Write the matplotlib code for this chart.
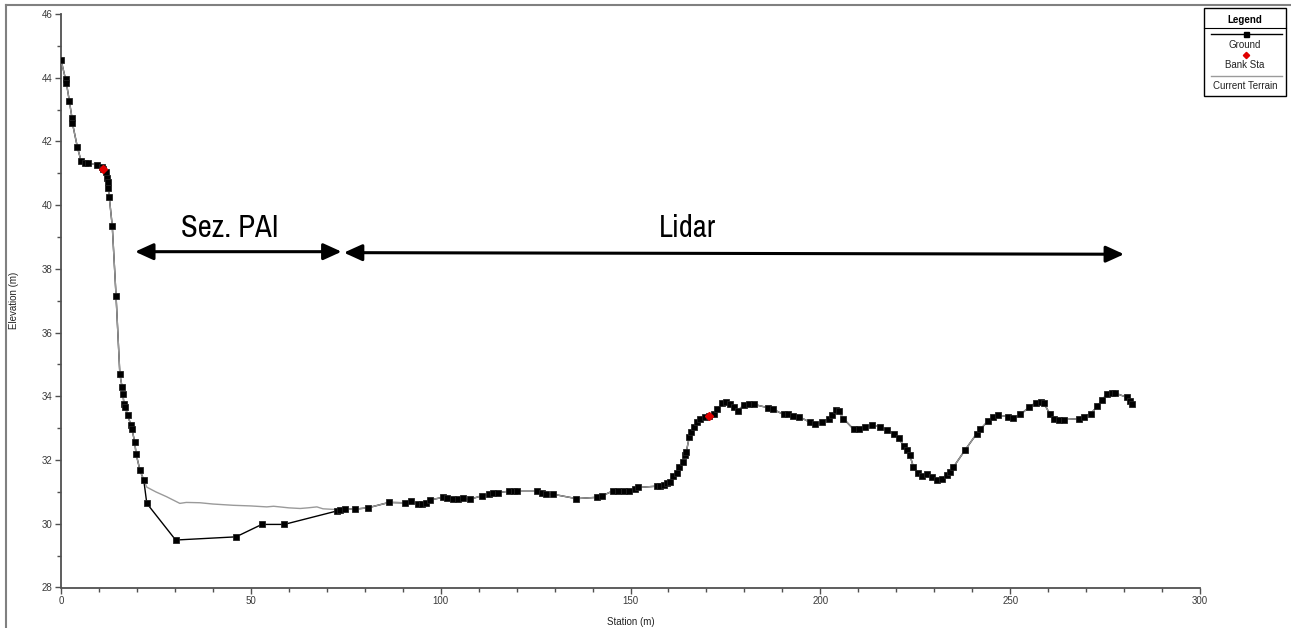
import matplotlib
matplotlib.use("Agg")
import matplotlib.pyplot as plt
from matplotlib.lines import Line2D
from matplotlib.patches import Rectangle
from matplotlib.ticker import MultipleLocator
from matplotlib import font_manager

# ---------------- data ----------------
ground_station = [0, 1.2, 1.4, 2.2, 2.9, 3.0, 4.3, 5.3, 6.3, 7.1, 9.6, 10.7, 11.1, 11.8, 12.1, 12.3,
                  12.5, 12.7, 13.5, 14.5, 15.5, 16.1, 16.3, 16.6, 16.9, 17.6, 18.4, 18.7, 19.4, 19.8,
                  20.8, 21.8, 22.6, 30.2, 46.1, 52.9, 58.8, 72.6, 73.5, 74.9, 77.4, 80.8, 86.4, 90.6,
                  92.1, 94.1, 95.2, 96.2, 97.2, 100.7, 101.6, 103.3, 104.6, 106.0, 107.8, 110.8, 112.6,
                  113.9, 115.2, 117.9, 119.2, 120.1, 125.3, 126.6, 127.7, 129.5, 135.7, 141.1, 142.4,
                  145.5, 146.8, 148.3, 149.5, 151.2, 152.1, 156.9, 157.8, 158.7, 159.6, 160.4, 161.3,
                  162.2, 162.9, 163.7, 164.4, 164.7, 165.5, 165.9, 166.6, 167.5, 168.4, 169.7, 170.8,
                  171.9, 172.9, 174.0, 175.2, 176.3, 177.2, 178.2, 179.8, 181.1, 182.4, 186.3, 187.6,
                  190.3, 191.6, 192.9, 194.4, 197.4, 198.7, 200.5, 202.2, 203.0, 204.0, 204.8, 206.1,
                  208.8, 210.1, 211.8, 213.6, 215.8, 217.5, 219.3, 220.6, 222.0, 222.9, 223.6, 224.5,
                  225.8, 226.7, 228.0, 229.3, 230.7, 232.0, 233.3, 234.2, 235.0, 238.1, 241.2, 242.1,
                  244.2, 245.5, 246.9, 249.5, 250.8, 252.7, 254.9, 256.7, 258.0, 258.9, 260.4, 261.5,
                  262.8, 264.1, 268.1, 269.4, 271.3, 273.0, 274.3, 275.5, 276.8, 277.7, 280.7, 281.6,
                  282.2]
ground_elev = [44.56, 43.95, 43.85, 43.27, 42.73, 42.58, 41.83, 41.38, 41.33, 41.32, 41.26, 41.2, 41.12,
               41.05, 40.85, 40.72, 40.53, 40.26, 39.35, 37.15, 34.7, 34.28, 34.06, 33.75, 33.66, 33.4,
               33.1, 32.97, 32.57, 32.18, 31.68, 31.37, 30.64, 29.49, 29.59, 29.98, 29.98, 30.4, 30.44,
               30.46, 30.46, 30.5, 30.67, 30.66, 30.71, 30.62, 30.62, 30.66, 30.75, 30.83, 30.8, 30.77,
               30.78, 30.8, 30.77, 30.88, 30.92, 30.97, 30.98, 31.02, 31.04, 31.02, 31.02, 30.98, 30.93,
               30.93, 30.79, 30.83, 30.87, 31.04, 31.04, 31.04, 31.04, 31.09, 31.14, 31.18, 31.2, 31.23,
               31.27, 31.32, 31.5, 31.6, 31.77, 31.95, 32.15, 32.26, 32.73, 32.89, 33.04, 33.18, 33.3,
               33.36, 33.39, 33.46, 33.59, 33.78, 33.83, 33.76, 33.65, 33.55, 33.72, 33.75, 33.75, 33.64,
               33.59, 33.43, 33.43, 33.39, 33.36, 33.18, 33.13, 33.18, 33.3, 33.4, 33.56, 33.54, 33.3,
               32.96, 32.98, 33.05, 33.1, 33.04, 32.94, 32.83, 32.68, 32.45, 32.3, 32.15, 31.79, 31.58,
               31.5, 31.56, 31.47, 31.37, 31.42, 31.53, 31.63, 31.77, 32.31, 32.83, 32.96, 33.23, 33.35,
               33.41, 33.36, 33.31, 33.43, 33.65, 33.8, 33.83, 33.78, 33.46, 33.3, 33.25, 33.27, 33.3,
               33.36, 33.46, 33.7, 33.9, 34.08, 34.1, 34.1, 33.97, 33.85, 33.75]

# current terrain inside the PAI section (elsewhere it follows the ground points)
terrain_pai_station = [22.6, 25.0, 27.8, 31.3, 33.0, 36.6, 40.0, 45.4, 50.0, 54.2, 56.0, 60.0, 63.0,
                       65.0, 67.4, 69.0, 71.7]
terrain_pai_elev = [31.15, 31.0, 30.85, 30.64, 30.67, 30.66, 30.62, 30.58, 30.56, 30.53, 30.55, 30.5,
                    30.48, 30.5, 30.53, 30.47, 30.45]

bank_station = [11.1, 170.8]
bank_elev = [41.12, 33.39]

x_ticks = [0, 50, 100, 150, 200, 250, 300]
y_ticks = [28, 30, 32, 34, 36, 38, 40, 42, 44, 46]

# build terrain line
terrain_station = [s for s in ground_station if s <= 21.8] + terrain_pai_station + \
                  [s for s in ground_station if s >= 73.5]
terrain_elev = [e for s, e in zip(ground_station, ground_elev) if s <= 21.8] + terrain_pai_elev + \
               [e for s, e in zip(ground_station, ground_elev) if s >= 73.5]

# pick a condensed font if one is installed
narrow_font = None
for f in font_manager.fontManager.ttflist:
    nm = f.name.lower()
    if ('narrow' in nm or 'condensed' in nm) and f.weight in (400, 'normal', 'regular') \
            and f.style == 'normal':
        narrow_font = f
        break
if narrow_font is None:
    for f in font_manager.fontManager.ttflist:
        if f.stretch in ('condensed', 'semi-condensed') or (isinstance(f.stretch, int) and f.stretch < 500):
            narrow_font = f
            break

if narrow_font is not None:
    big_kw = dict(fontproperties=font_manager.FontProperties(fname=narrow_font.fname, size=22))
else:
    big_kw = dict(family=['DejaVu Sans'], fontsize=19)

# ---------------- figure ----------------
W, H = 1291, 628
fig = plt.figure(figsize=(W / 100, H / 100), dpi=100)
ax = fig.add_axes([61 / W, 1 - 587.5 / H, (1200 - 61) / W, (587.5 - 14) / H])

small = ['Liberation Sans', 'DejaVu Sans']
tcol = '#3a3a3a'

ax.plot(ground_station, ground_elev, color='black', lw=1.0, zorder=2)
ax.plot(terrain_station, terrain_elev, color='#9a9a9a', lw=1.0, zorder=3)
ax.plot(ground_station, ground_elev, ls='none', marker='s', ms=3.8, mfc='black', mec='#222222',
        mew=0.6, zorder=4)
ax.plot(bank_station, bank_elev, ls='none', marker='D', ms=3.6, mfc='#e00000', mec='#e00000', zorder=5)

ax.set_xlim(0, 300)
ax.set_ylim(28, 46)
ax.set_xticks(x_ticks)
ax.set_yticks(y_ticks)
ax.xaxis.set_minor_locator(MultipleLocator(10))
ax.yaxis.set_minor_locator(MultipleLocator(1))
for sp in ['top', 'right']:
    ax.spines[sp].set_visible(False)
for sp in ['left', 'bottom']:
    ax.spines[sp].set_color('#505050')
    ax.spines[sp].set_linewidth(1.3)
ax.tick_params(axis='both', which='major', length=4, width=1, color='#505050', labelsize=7,
               labelcolor=tcol, pad=2)
ax.tick_params(axis='both', which='minor', length=3, width=1, color='#505050')
for lab in ax.get_xticklabels() + ax.get_yticklabels():
    lab.set_family(small)

ax.set_xlabel('Station (m)', fontsize=7, family=small, color='#222222', labelpad=8)
ax.set_ylabel('Elevation (m)', fontsize=7, family=small, color='#222222')
ax.yaxis.set_label_coords(-0.037, 0.5)

# annotations
ax.annotate('', xy=(73.9, 38.54), xytext=(19.5, 38.54),
            arrowprops=dict(arrowstyle='<|-|>,head_length=0.55,head_width=0.25', color='black',
                            lw=2.2, shrinkA=0, shrinkB=0, mutation_scale=20))
ax.annotate('', xy=(280.0, 38.46), xytext=(74.5, 38.51),
            arrowprops=dict(arrowstyle='<|-|>,head_length=0.55,head_width=0.25', color='black',
                            lw=2.2, shrinkA=0, shrinkB=0, mutation_scale=20))
ax.text(44.5, 38.99, 'Sez. PAI', ha='center', va='baseline', color='black', **big_kw)
ax.text(165.1, 39.0, 'Lidar', ha='center', va='baseline', color='black', **big_kw)

# figure border (left and top)
def fx(p):
    return p / W
def fy(p):
    return 1 - p / H

fig.add_artist(Line2D([fx(6), fx(6)], [fy(5), fy(628)], color='#808080', lw=1.5))
fig.add_artist(Line2D([fx(6), fx(1291)], [fy(5), fy(5)], color='#808080', lw=1.5))

# legend box
fig.add_artist(Rectangle((fx(1204), fy(96)), fx(1286) - fx(1204), fy(8) - fy(96),
                         fill=True, facecolor='white', edgecolor='black', lw=1.0))
fig.text(fx(1245), fy(20), 'Legend', fontsize=7, fontweight='bold', family=small,
         ha='center', va='center', color='black')
fig.add_artist(Line2D([fx(1204), fx(1286)], [fy(27.7), fy(27.7)], color='black', lw=0.8))
fig.add_artist(Line2D([fx(1211), fx(1282)], [fy(34), fy(34)], color='black', lw=1.0))
fig.add_artist(Line2D([fx(1246)], [fy(34)], ls='none', marker='s', ms=3.6, mfc='black', mec='black'))
fig.text(fx(1245), fy(45.5), 'Ground', fontsize=7, family=small, ha='center', va='center', color='#222222')
fig.add_artist(Line2D([fx(1246)], [fy(55)], ls='none', marker='D', ms=3.2, mfc='#e00000', mec='#e00000'))
fig.text(fx(1245), fy(65), 'Bank Sta', fontsize=7, family=small, ha='center', va='center', color='#222222')
fig.add_artist(Line2D([fx(1211), fx(1282)], [fy(76), fy(76)], color='#9a9a9a', lw=1.0))
fig.text(fx(1245), fy(86), 'Current Terrain', fontsize=7, family=small, ha='center', va='center',
         color='#222222')

fig.savefig('out.png', dpi=100)
